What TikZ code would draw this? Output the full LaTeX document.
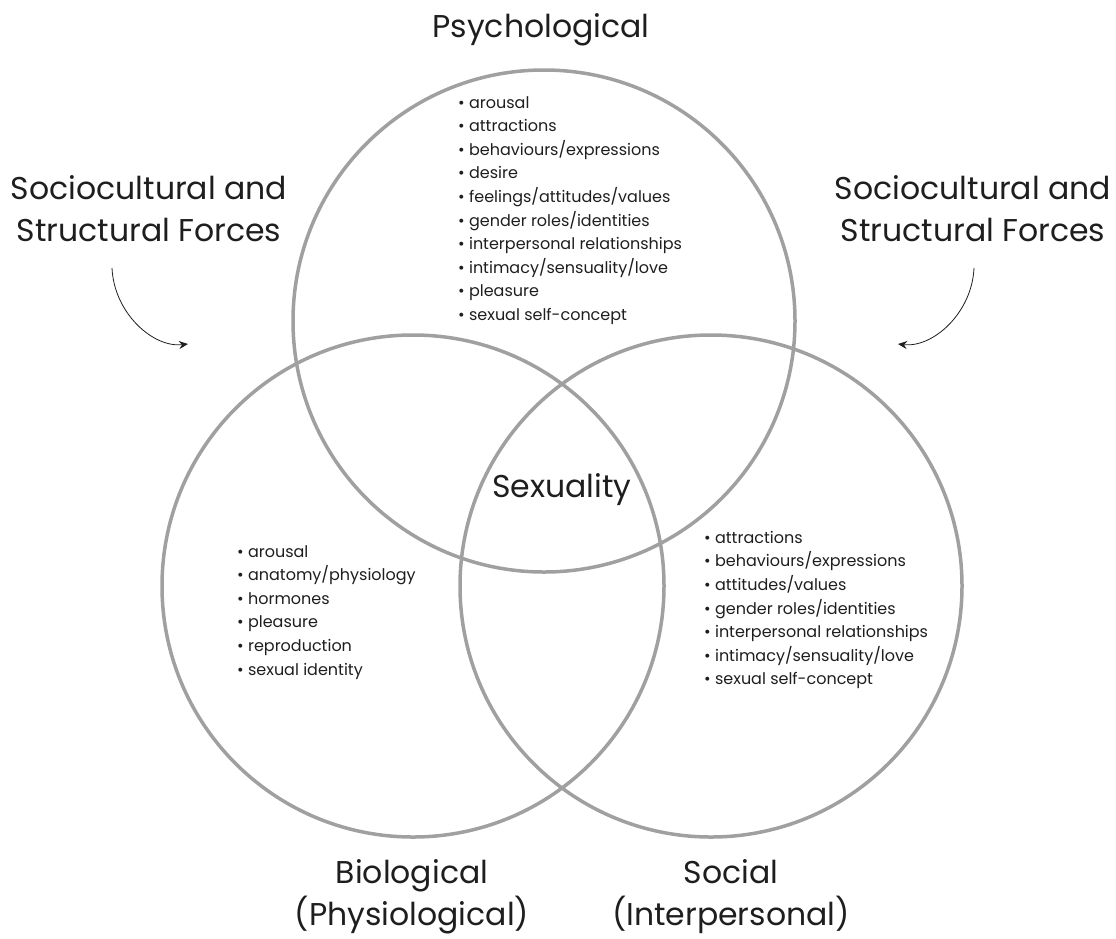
\documentclass[tikz,border=0pt]{standalone}
\usepackage{fontspec}
\setmainfont{Poppins}
\usetikzlibrary{arrows.meta}

\definecolor{ringgray}{RGB}{160,160,160}
\definecolor{inkgray}{RGB}{30,30,30}

\tikzset{
    ring/.style={draw=ringgray, line width=3.5pt, circle, minimum size=502pt, inner sep=0pt},
    heading/.style={font=\fontsize{31.5}{42.5}\selectfont, text=inkgray, align=center, inner sep=0pt},
    itemlist/.style={font=\fontsize{16}{23.6}\selectfont, text=inkgray, align=left, anchor=north west, inner sep=0pt},
    forcearrow/.style={-{Stealth[length=9pt, width=8pt, inset=3pt]}, line width=0.8pt, draw=inkgray}
}

\begin{document}
\begin{tikzpicture}[x=1pt, y=-1pt]
    \useasboundingbox (0,0) rectangle (1116,938);

    % Drei Kreise
    \node[ring] (psy) at (544,321) {};
    \node[ring] (bio) at (413,586) {};
    \node[ring] (soc) at (711,586) {};

    % Überschriften
    \node[heading, anchor=base] (psytitle) at (541,37) {Psychological};
    \node[heading, anchor=base] (sexlabel) at (562,497) {Sexuality};
    \node[heading, anchor=north] (biotitle) at (412,859) {Biological\\(Physiological)};
    \node[heading, anchor=north] (soctitle) at (731,859) {Social\\(Interpersonal)};

    % Äußere Kräfte links und rechts
    \node[heading, anchor=north] (leftforce) at (149,175) {Sociocultural and\\Structural Forces};
    \node[heading, anchor=north] (rightforce) at (973,175) {Sociocultural and\\Structural Forces};

    % Pfeile
    \coordinate (lstart) at (112,268);
    \coordinate (lend) at (188,344);
    \draw[forcearrow] (lstart) .. controls +(2,45) and +(-35,4) .. (lend);
    \coordinate (rstart) at (974,268);
    \coordinate (rend) at (898,344);
    \draw[forcearrow] (rstart) .. controls +(-2,45) and +(35,4) .. (rend);

    % Listen
    \node[itemlist] (psylist) at (458,96)
        {\textbullet\ arousal
        \\\textbullet\ attractions
        \\\textbullet\ behaviours/expressions
        \\\textbullet\ desire
        \\\textbullet\ feelings/attitudes/values
        \\\textbullet\ gender roles/identities
        \\\textbullet\ interpersonal relationships
        \\\textbullet\ intimacy/sensuality/love
        \\\textbullet\ pleasure
        \\\textbullet\ sexual self-concept
        };
    \node[itemlist] (biolist) at (237,545)
        {\textbullet\ arousal
        \\\textbullet\ anatomy/physiology
        \\\textbullet\ hormones
        \\\textbullet\ pleasure
        \\\textbullet\ reproduction
        \\\textbullet\ sexual identity
        };
    \node[itemlist] (soclist) at (704,531)
        {\textbullet\ attractions
        \\\textbullet\ behaviours/expressions
        \\\textbullet\ attitudes/values
        \\\textbullet\ gender roles/identities
        \\\textbullet\ interpersonal relationships
        \\\textbullet\ intimacy/sensuality/love
        \\\textbullet\ sexual self-concept
        };
\end{tikzpicture}
\end{document}
